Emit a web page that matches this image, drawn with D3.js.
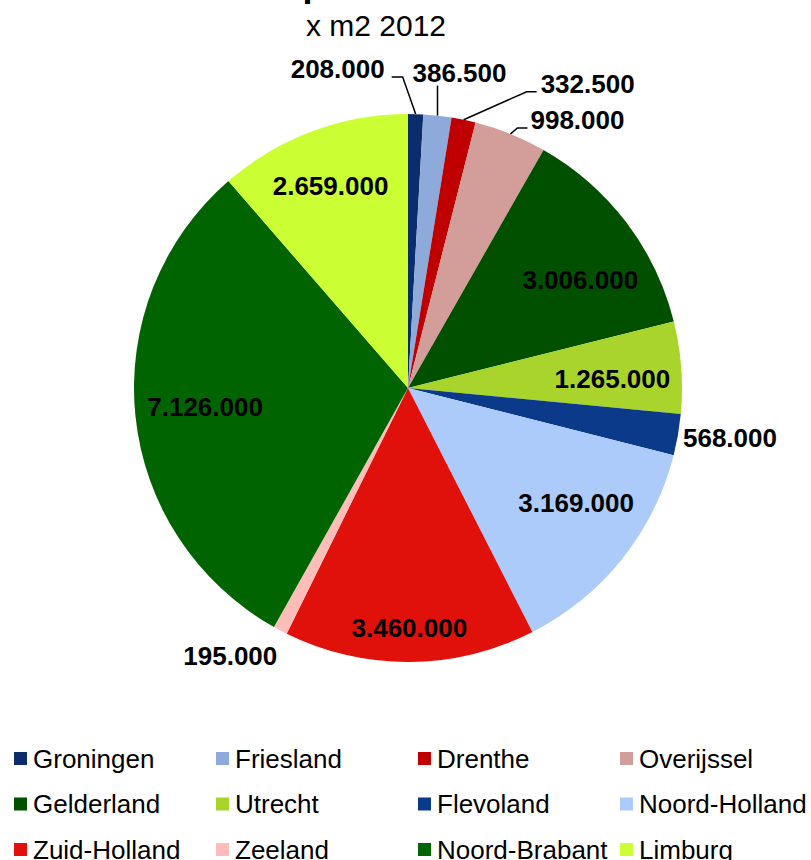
<!DOCTYPE html>
<html>
<head>
<meta charset="utf-8">
<script src="https://cdn.jsdelivr.net/npm/d3@7"></script>
<style>
  body { margin: 0; background: #fff; }
  svg { display: block; font-family: "Liberation Sans", Arial, sans-serif; }
</style>
</head>
<body>
<div id="chart"></div>
<script>
const provinces = ["Groningen", "Friesland", "Drenthe", "Overijssel", "Gelderland", "Utrecht",
  "Flevoland", "Noord-Holland", "Zuid-Holland", "Zeeland", "Noord-Brabant", "Limburg"];
const areas = [208000, 386500, 332500, 998000, 3006000, 1265000,
  568000, 3169000, 3460000, 195000, 7126000, 2659000];
const colors = ["#0b2d6c", "#8eaadb", "#c00000", "#d39e9a", "#005000", "#a9d42b",
  "#0c3a8b", "#adcbfa", "#e0100a", "#ffbdb9", "#006400", "#ccff33"];

const width = 811, height = 860;
const cx = 408, cy = 388, radius = 274;

// label placement: inside labels sit on the mid-angle at r, nudged by dx/dy;
// outside labels hang off the rim with an optional leader (elbow + end, relative to rim point)
const labelLayout = [
  { out: true, elbow: [-13, -37], end: [-24, -37], text: [-31, -45], anchor: "end" },
  { out: true, elbow: [0, -30], end: [0, -30], text: [22, -43], anchor: "middle" },
  { out: true, elbow: [63, -28], end: [73, -28], text: [77, -36], anchor: "start" },
  { out: true, elbow: [7, -6], end: [17, -6], text: [20, -14], anchor: "start" },
  { r: 210, dx: 5, dy: 19 },
  { r: 210, dx: -5, dy: 7 },
  { out: true, text: [5, 3], anchor: "start" },
  { r: 210, dx: 4, dy: -16 },
  { r: 210, dx: 0, dy: 30 },
  { out: true, text: [-3, 25], anchor: "end" },
  { r: 210, dx: 6, dy: -2 },
  { r: 210, dx: -4, dy: -5 }
];

const fmt = v => d3.format(",")(v).replace(/,/g, ".");

const svg = d3.select("#chart")
  .append("svg")
    .attr("width", width)
    .attr("height", height);

// title (mostly above the visible area) and subtitle
svg.append("text")
  .attr("x", 137)
  .attr("y", -4)
  .attr("font-size", 36)
  .attr("font-weight", "bold")
  .text("Voorraad per Provincie");

svg.append("text")
  .attr("x", 376)
  .attr("y", 36)
  .attr("text-anchor", "middle")
  .attr("font-size", 30)
  .text("x m2 2012");

const pie = d3.pie().sort(null).value(d => d.value);
const data = provinces.map((p, i) => ({ name: p, value: areas[i], color: colors[i], layout: labelLayout[i] }));
const arcs = pie(data);

const arc = d3.arc().innerRadius(0).outerRadius(radius);

const g = svg.append("g")
  .attr("transform", `translate(${cx},${cy})`);

g.selectAll("path.slice")
  .data(arcs)
  .enter()
  .append("path")
    .attr("class", "slice")
    .attr("d", arc)
    .attr("fill", d => d.data.color);

const polar = (a, r) => [r * Math.sin(a), -r * Math.cos(a)];

arcs.forEach(d => {
  const mid = (d.startAngle + d.endAngle) / 2;
  const L = d.data.layout;
  if (L.out) {
    const rim = polar(mid, radius);
    if (L.elbow) {
      g.append("polyline")
        .attr("points", [rim, [rim[0] + L.elbow[0], rim[1] + L.elbow[1]], [rim[0] + L.end[0], rim[1] + L.end[1]]]
          .map(p => p.join(",")).join(" "))
        .attr("fill", "none")
        .attr("stroke", "#000")
        .attr("stroke-width", 1.5);
    }
    g.append("text")
      .attr("x", rim[0] + L.text[0])
      .attr("y", rim[1] + L.text[1])
      .attr("dy", "0.35em")
      .attr("text-anchor", L.anchor)
      .attr("font-size", 26)
      .attr("font-weight", "bold")
      .text(fmt(d.data.value));
  } else {
    const p = polar(mid, L.r);
    g.append("text")
      .attr("x", p[0] + L.dx)
      .attr("y", p[1] + L.dy)
      .attr("dy", "0.35em")
      .attr("text-anchor", "middle")
      .attr("font-size", 26)
      .attr("font-weight", "bold")
      .text(fmt(d.data.value));
  }
});

// legend, 4 columns x 3 rows
const legend = svg.append("g")
  .attr("transform", "translate(14,752)");

const item = legend.selectAll("g.item")
  .data(data)
  .enter()
  .append("g")
    .attr("class", "item")
    .attr("transform", (d, i) => `translate(${(i % 4) * 202},${Math.floor(i / 4) * 45.5})`);

item.append("rect")
  .attr("width", 13)
  .attr("height", 13)
  .attr("fill", d => d.color);

item.append("text")
  .attr("x", 19)
  .attr("y", 6.5)
  .attr("dy", "0.35em")
  .attr("font-size", 26)
  .text(d => d.name);
</script>
</body>
</html>
